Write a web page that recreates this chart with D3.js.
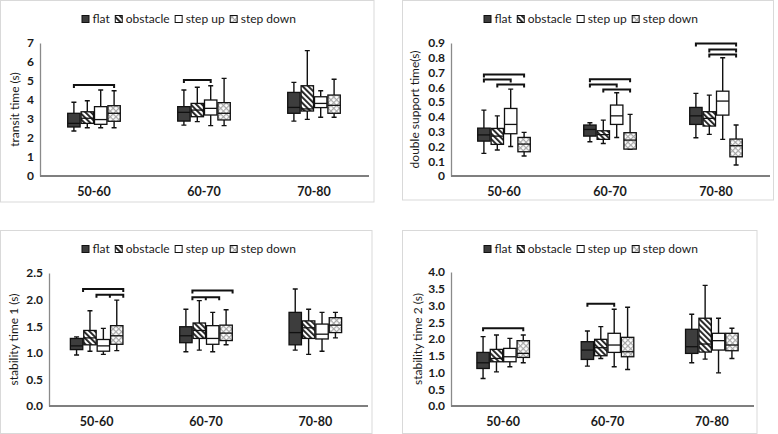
<!DOCTYPE html>
<html>
<head>
<meta charset="utf-8">
<script src="https://cdn.jsdelivr.net/npm/d3@7"></script>
<style>
  body { margin: 0; background: #fff; }
  svg { display: block; font-family: Lato, "Open Sans", sans-serif; }
</style>
</head>
<body>
<svg id="chart" width="778" height="434"></svg>
<script>
// age groups and walking conditions
var groups = ["50-60", "60-70", "70-80"];
var conditions = ["flat", "obstacle", "step up", "step down"];

// box stats: [whisker low, q1, median, q3, whisker high], per group then per condition
var transitStats = [
  [[2.37, 2.58, 2.77, 3.30, 3.88], [2.54, 2.77, 3.04, 3.38, 3.96], [2.54, 2.72, 2.97, 3.65, 4.53], [2.54, 2.88, 3.30, 3.70, 4.49]],
  [[2.68, 2.89, 3.35, 3.65, 4.53], [2.86, 3.12, 3.47, 3.82, 4.67], [2.65, 3.21, 3.56, 4.00, 4.75], [2.65, 2.95, 3.30, 3.86, 5.14]],
  [[2.89, 3.30, 3.61, 4.40, 4.93], [2.98, 3.42, 3.53, 4.75, 6.60], [3.09, 3.60, 3.82, 4.17, 4.49], [3.09, 3.30, 3.72, 4.26, 5.09]]
];
var doubleStats = [
  [[0.153, 0.236, 0.278, 0.324, 0.446], [0.176, 0.214, 0.270, 0.322, 0.407], [0.200, 0.286, 0.349, 0.457, 0.588], [0.135, 0.164, 0.216, 0.261, 0.295]],
  [[0.232, 0.270, 0.315, 0.345, 0.360], [0.220, 0.248, 0.280, 0.306, 0.378], [0.261, 0.349, 0.407, 0.480, 0.563], [0.180, 0.182, 0.243, 0.293, 0.417]],
  [[0.259, 0.349, 0.407, 0.464, 0.559], [0.282, 0.338, 0.390, 0.435, 0.547], [0.248, 0.412, 0.507, 0.574, 0.800], [0.074, 0.130, 0.205, 0.250, 0.345]]
];
var stab1Stats = [
  [[0.96, 1.06, 1.13, 1.27, 1.30], [1.03, 1.15, 1.28, 1.42, 1.79], [0.97, 1.03, 1.13, 1.25, 1.46], [1.04, 1.16, 1.32, 1.51, 1.99]],
  [[1.02, 1.19, 1.32, 1.49, 1.82], [1.05, 1.27, 1.42, 1.56, 1.98], [1.02, 1.16, 1.27, 1.51, 1.76], [1.15, 1.23, 1.37, 1.52, 1.81]],
  [[1.05, 1.15, 1.38, 1.76, 2.20], [0.97, 1.27, 1.47, 1.60, 1.82], [1.03, 1.26, 1.35, 1.54, 1.76], [1.28, 1.38, 1.52, 1.66, 1.76]]
];
var stab2Stats = [
  [[0.82, 1.12, 1.29, 1.60, 2.07], [1.02, 1.32, 1.42, 1.69, 2.12], [1.17, 1.32, 1.47, 1.72, 2.02], [1.29, 1.45, 1.57, 1.95, 2.12]],
  [[1.19, 1.39, 1.67, 1.92, 2.24], [1.42, 1.50, 1.74, 1.99, 2.37], [1.17, 1.60, 1.82, 2.17, 2.89], [1.09, 1.47, 1.62, 2.05, 2.95]],
  [[1.29, 1.57, 1.77, 2.29, 2.74], [1.40, 1.61, 1.85, 2.62, 3.60], [0.99, 1.67, 1.95, 2.17, 2.62], [1.42, 1.65, 1.82, 2.17, 2.32]]
];

// significance brackets: group index, condition indices joined, level
var transitBrackets = [
  { g: 0, idx: [0, 3], v: 4.79 },
  { g: 1, idx: [0, 2], v: 5.05 }
];
var doubleBrackets = [
  { g: 0, idx: [0, 3], v: 0.687 }, { g: 0, idx: [0, 2], v: 0.653 }, { g: 0, idx: [1, 3], v: 0.620 },
  { g: 1, idx: [0, 3], v: 0.655 }, { g: 1, idx: [0, 2], v: 0.620 }, { g: 1, idx: [1, 3], v: 0.585 },
  { g: 2, idx: [0, 3], v: 0.897 }, { g: 2, idx: [1, 3], v: 0.856 }, { g: 2, idx: [1, 3], v: 0.822 }
];
var stab1Brackets = [
  { g: 0, idx: [0, 3], v: 2.20 }, { g: 0, idx: [1, 2, 3], v: 2.09 },
  { g: 1, idx: [0, 3], v: 2.17 }, { g: 1, idx: [0, 1, 2], v: 2.045 }
];
var stab2Brackets = [
  { g: 0, idx: [0, 3], v: 2.32 },
  { g: 1, idx: [0, 2], v: 3.05 }
];

// axis ticks
var transitTicks = [0, 1, 2, 3, 4, 5, 6, 7];
var doubleTicks = [0, 0.1, 0.2, 0.3, 0.4, 0.5, 0.6, 0.7, 0.8, 0.9];
var stab1Ticks = [0, 0.5, 1.0, 1.5, 2.0, 2.5];
var stab2Ticks = [0, 0.5, 1.0, 1.5, 2.0, 2.5, 3.0, 3.5, 4.0];

var svg = d3.select("#chart");

// fill patterns
var defs = svg.append("defs");
var stripe = defs.append("pattern")
    .attr("id", "stripes")
    .attr("patternUnits", "userSpaceOnUse")
    .attr("width", 4).attr("height", 4)
    .attr("patternTransform", "rotate(-45)");
stripe.append("rect").attr("width", 4).attr("height", 4).attr("fill", "#fff");
stripe.append("rect").attr("width", 1.9).attr("height", 4).attr("fill", "#222");

var checks = defs.append("pattern")
    .attr("id", "checks")
    .attr("patternUnits", "userSpaceOnUse")
    .attr("width", 4).attr("height", 4)
    .attr("patternTransform", "rotate(45)");
checks.append("rect").attr("width", 4).attr("height", 4).attr("fill", "#fff");
checks.append("rect").attr("width", 1.2).attr("height", 4).attr("fill", "#a8a8a8");
checks.append("rect").attr("width", 4).attr("height", 1.2).attr("fill", "#a8a8a8");

var fills = d3.scaleOrdinal()
    .domain(conditions)
    .range(["#3d3d3d", "url(#stripes)", "#fff", "url(#checks)"]);

var panels = [
  { stats: transitStats, brackets: transitBrackets, ticks: transitTicks, fmt: d3.format("d"),
    title: "transit time (s)", frame: [0.5, 0.5, 373.5, 201.5], xr: [39, 369], axisX: 40, axisEnd: 369,
    yr: [176, 43], legendY: 19, titleX: 15, nudge: 0 },
  { stats: doubleStats, brackets: doubleBrackets, ticks: doubleTicks, fmt: function(d){ return d === 0 ? "0" : d3.format(".1f")(d); },
    title: "double support time(s)", frame: [402.5, 0.5, 371, 199.5], xr: [451, 769], axisX: 451, axisEnd: 770,
    yr: [176, 43], legendY: 19, titleX: 415, nudge: 0 },
  { stats: stab1Stats, brackets: stab1Brackets, ticks: stab1Ticks, fmt: d3.format(".1f"),
    title: "stability time 1 (s)", frame: [0.5, 230.5, 371.5, 203], xr: [42, 370], axisX: 49, axisEnd: 368,
    yr: [406, 273], legendY: 249, titleX: 14, nudge: 6.5 },
  { stats: stab2Stats, brackets: stab2Brackets, ticks: stab2Ticks, fmt: d3.format(".1f"),
    title: "stability time 2 (s)", frame: [402.5, 230.5, 354.5, 203], xr: [451, 764], axisX: 451, axisEnd: 754,
    yr: [406, 272], legendY: 249, titleX: 418, nudge: 0 }
];

var slot = 13.4, boxW = 12.4, capW = 5;

panels.forEach(function(p){
    var g = svg.append("g");

    // panel frame
    g.append("rect")
        .attr("x", p.frame[0]).attr("y", p.frame[1])
        .attr("width", p.frame[2]).attr("height", p.frame[3])
        .attr("fill", "none").attr("stroke", "#d9d9d9");

    var x = d3.scaleBand().domain(groups).range(p.xr);
    var y = d3.scaleLinear().domain([0, p.ticks[p.ticks.length - 1]]).range(p.yr);
    var off = d3.scalePoint().domain(d3.range(4)).range([-1.5 * slot, 1.5 * slot]);

    // y axis
    var yAxis = g.append("g")
        .attr("transform", "translate(" + p.axisX + ",0)")
        .call(d3.axisLeft(y).tickValues(p.ticks).tickFormat(p.fmt).tickSize(0).tickPadding(6));
    yAxis.select(".domain").attr("stroke", "#8a8a8a").attr("stroke-width", 1.3);
    yAxis.selectAll("text")
        .attr("font-family", "Lato, sans-serif")
        .attr("font-size", 12).attr("font-weight", "bold").attr("fill", "#1a1a1a");

    // x axis line and category labels
    g.append("line")
        .attr("x1", p.axisX).attr("x2", p.axisEnd)
        .attr("y1", y(0)).attr("y2", y(0))
        .attr("stroke", "#7f7f7f").attr("stroke-width", 1.8);
    g.selectAll(".cat").data(groups).enter().append("text")
        .attr("x", function(d){ return x(d) + x.bandwidth() / 2; })
        .attr("y", y(0) + 16)
        .attr("dy", "0.35em")
        .attr("text-anchor", "middle")
        .attr("font-size", 12.5).attr("font-weight", "bold").attr("fill", "#1a1a1a")
        .text(function(d){ return d; });

    // axis title
    var ym = (p.yr[0] + p.yr[1]) / 2;
    g.append("text")
        .attr("transform", "translate(" + p.titleX + "," + ym + ") rotate(-90)")
        .attr("text-anchor", "middle").attr("dy", "0.35em")
        .attr("font-size", 12).attr("fill", "#1a1a1a")
        .text(p.title);

    // boxes
    p.stats.forEach(function(row, gi){
        var cx0 = x(groups[gi]) + x.bandwidth() / 2;
        row.forEach(function(s, ci){
            var cx = cx0 + off(ci);
            var bg = g.append("g");
            bg.append("path")
                .attr("d", "M" + cx + "," + y(s[4]) + "V" + y(s[3]) + "M" + cx + "," + y(s[1]) + "V" + y(s[0]) +
                           "M" + (cx - capW / 2) + "," + y(s[4]) + "h" + capW +
                           "M" + (cx - capW / 2) + "," + y(s[0]) + "h" + capW)
                .attr("stroke", "#111").attr("stroke-width", 1.4).attr("fill", "none");
            bg.append("rect")
                .attr("x", cx - boxW / 2).attr("y", y(s[3]))
                .attr("width", boxW).attr("height", y(s[1]) - y(s[3]))
                .attr("fill", fills(conditions[ci]))
                .attr("stroke", "#111").attr("stroke-width", 1.3);
            bg.append("line")
                .attr("x1", cx - boxW / 2).attr("x2", cx + boxW / 2)
                .attr("y1", y(s[2])).attr("y2", y(s[2]))
                .attr("stroke", "#111").attr("stroke-width", 1.3);
        });
    });

    // significance brackets
    p.brackets.forEach(function(b){
        var cx0 = x(groups[b.g]) + x.bandwidth() / 2 + p.nudge;
        var xs = b.idx.map(function(i){ return cx0 + off(i); });
        var yy = y(b.v);
        var d = "M" + xs[0] + "," + (yy + 3) + "V" + yy + "H" + xs[xs.length - 1] + "V" + (yy + 3);
        xs.slice(1, -1).forEach(function(xm){ d += "M" + xm + "," + yy + "V" + (yy + 3); });
        g.append("path")
            .attr("d", d)
            .attr("fill", "none").attr("stroke", "#111").attr("stroke-width", 2);
    });

    // legend
    var lg = g.append("g").attr("transform", "translate(" + (p.frame[0] + 81.5) + "," + p.legendY + ")");
    var cursor = 0;
    conditions.forEach(function(c){
        lg.append("rect")
            .attr("x", cursor).attr("y", -3.5)
            .attr("width", 7).attr("height", 7)
            .attr("fill", fills(c)).attr("stroke", "#111").attr("stroke-width", 1);
        var t = lg.append("text")
            .attr("x", cursor + 10.5).attr("y", 0).attr("dy", "0.35em")
            .attr("font-size", 12).attr("fill", "#1a1a1a")
            .text(c);
        cursor += 10.5 + t.node().getComputedTextLength() + 5.5;
    });
});
</script>
</body>
</html>
